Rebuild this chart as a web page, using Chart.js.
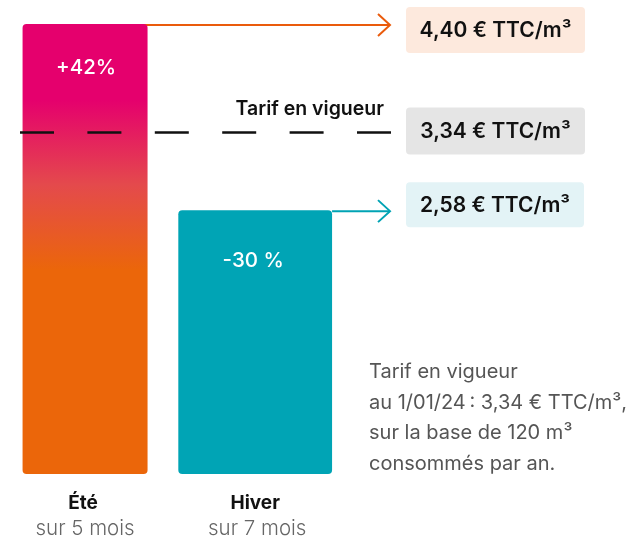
<!DOCTYPE html>
<html>
<head>
<meta charset="utf-8">
<script src="https://cdn.jsdelivr.net/npm/chart.js@4"></script>
<style>
  html, body { margin: 0; padding: 0; background: #fff; }
  #wrap { width: 636px; height: 540px; position: relative; }
</style>
</head>
<body>
<div id="wrap"><canvas id="tarifChart"></canvas></div>
<script>
// données du graphique
const saisons = ['Été', 'Hiver'];
const periodes = ['sur 5 mois', 'sur 7 mois'];
const prixSaison = [4.40, 2.58];
const variations = ['+42%', '-30 %'];
const tarifActuel = 3.34;
const libelleTarif = 'Tarif en vigueur';
const etiquettesPrix = ['4,40 € TTC/m³', '3,34 € TTC/m³', '2,58 € TTC/m³'];
const noteLignes = ['Tarif en vigueur', 'au 1/01/24\u202f: 3,34 € TTC/m³,', 'sur la base de 120 m³', 'consommés par an.'];

const FONT = 'Inter, "Noto Sans", sans-serif';

// dégradé de la barre été (magenta -> orange)
function degradeEte(context) {
    const chart = context.chart;
    const { ctx, chartArea } = chart;
    if (!chartArea) return '#e5006d';
    const g = ctx.createLinearGradient(0, 100, 0, 270);
    g.addColorStop(0, '#e5006d');
    g.addColorStop(0.5, '#e44a4c');
    g.addColorStop(1, '#eb660a');
    return g;
}

function fleche(ctx, x1, x2, y, couleur) {
    ctx.save();
    ctx.strokeStyle = couleur;
    ctx.lineWidth = 2;
    ctx.beginPath();
    ctx.moveTo(x1, y);
    ctx.lineTo(x2, y);
    ctx.stroke();
    ctx.beginPath();
    ctx.moveTo(x2 - 12, y - 11);
    ctx.lineTo(x2, y);
    ctx.lineTo(x2 - 12, y + 11);
    ctx.stroke();
    ctx.restore();
}

function boite(ctx, x, y, w, h, fond, texte) {
    ctx.save();
    ctx.fillStyle = fond;
    ctx.beginPath();
    ctx.roundRect(x, y, w, h, 4);
    ctx.fill();
    ctx.fillStyle = '#111';
    ctx.font = '600 21px ' + FONT;
    ctx.textAlign = 'center';
    ctx.textBaseline = 'middle';
    ctx.fillText(texte, x + w / 2, y + h / 2 + 1);
    ctx.restore();
}

const decorations = {
    id: 'decorations',
    beforeDatasetsDraw(chart) {
        const ctx = chart.ctx;
        const b1 = chart.getDatasetMeta(0).data[0];
        const b2 = chart.getDatasetMeta(1).data[1];
        fleche(ctx, b1.x + b1.width / 2 - 13, 390, b1.y + 1, '#ea5b0c');
        fleche(ctx, b2.x + b2.width / 2, 390, b2.y + 1, '#00a3b4');
    },
    afterDatasetsDraw(chart) {
        const ctx = chart.ctx;
        const y = chart.scales.y;
        const b1 = chart.getDatasetMeta(0).data[0];
        const b2 = chart.getDatasetMeta(1).data[1];
        const yTarif = y.getPixelForValue(tarifActuel);

        // ligne du tarif en vigueur
        ctx.save();
        ctx.strokeStyle = '#111';
        ctx.lineWidth = 2.5;
        ctx.setLineDash([34, 33.4]);
        ctx.beginPath();
        ctx.moveTo(20, yTarif);
        ctx.lineTo(391, yTarif);
        ctx.stroke();
        ctx.restore();

        ctx.save();
        ctx.fillStyle = '#111';
        ctx.font = '600 19.5px ' + FONT;
        ctx.textAlign = 'right';
        ctx.textBaseline = 'middle';
        ctx.fillText(libelleTarif, 384, yTarif - 23);
        ctx.restore();

        // étiquettes de prix
        boite(ctx, 406, b1.y - 17, 179, 46, '#fde9dd', etiquettesPrix[0]);
        boite(ctx, 406, yTarif - 25, 179, 47, '#e5e5e5', etiquettesPrix[1]);
        boite(ctx, 406, b2.y - 28, 178, 45, '#e3f3f6', etiquettesPrix[2]);

        // variations dans les barres
        ctx.save();
        ctx.fillStyle = '#fff';
        ctx.font = '500 20.5px ' + FONT;
        ctx.textAlign = 'center';
        ctx.textBaseline = 'middle';
        ctx.fillText(variations[0], b1.x + 1, b1.y + 44);
        ctx.fillText(variations[1], b2.x - 2, b2.y + 51);
        ctx.restore();

        // libellés sous les barres
        ctx.save();
        ctx.textAlign = 'center';
        ctx.textBaseline = 'middle';
        saisons.forEach((s, i) => {
            const cx = i === 0 ? b1.x - 2 : b2.x;
            ctx.fillStyle = '#111';
            ctx.font = '700 19px ' + FONT;
            ctx.fillText(s, cx, 503);
            ctx.fillStyle = '#666';
            ctx.font = '300 20.5px ' + FONT;
            ctx.fillText(periodes[i], cx + 2, 529);
        });
        ctx.restore();

        // note
        ctx.save();
        ctx.fillStyle = '#555';
        ctx.font = '400 20px ' + FONT;
        ctx.textAlign = 'left';
        ctx.textBaseline = 'middle';
        noteLignes.forEach((l, i) => ctx.fillText(l, 369, 372 + i * 30.5));
        ctx.restore();
    }
};

const ctxTarif = document.getElementById('tarifChart').getContext('2d');
const tarifChart = new Chart(ctxTarif, {
    type: 'bar',
    data: {
        labels: saisons,
        datasets: [{
            label: saisons[0],
            data: [prixSaison[0], null],
            backgroundColor: degradeEte,
            barPercentage: 0.7347,
            categoryPercentage: 1,
            borderRadius: 4,
            borderSkipped: false,
            grouped: false,
        }, {
            label: saisons[1],
            data: [null, prixSaison[1]],
            backgroundColor: '#00a4b5',
            barPercentage: 0.9038,
            categoryPercentage: 1,
            borderRadius: 4,
            borderSkipped: false,
            grouped: false,
        }],
    },
    options: {
        responsive: true,
        maintainAspectRatio: false,
        animation: false,
        layout: {
            padding: { left: -2.75, right: 295.75, top: 24, bottom: 66 },
        },
        plugins: {
            legend: { display: false },
            tooltip: { enabled: false },
        },
        scales: {
            x: { display: false },
            y: { display: false, min: 0, max: prixSaison[0] },
        },
    },
    plugins: [decorations],
});
</script>
</body>
</html>
